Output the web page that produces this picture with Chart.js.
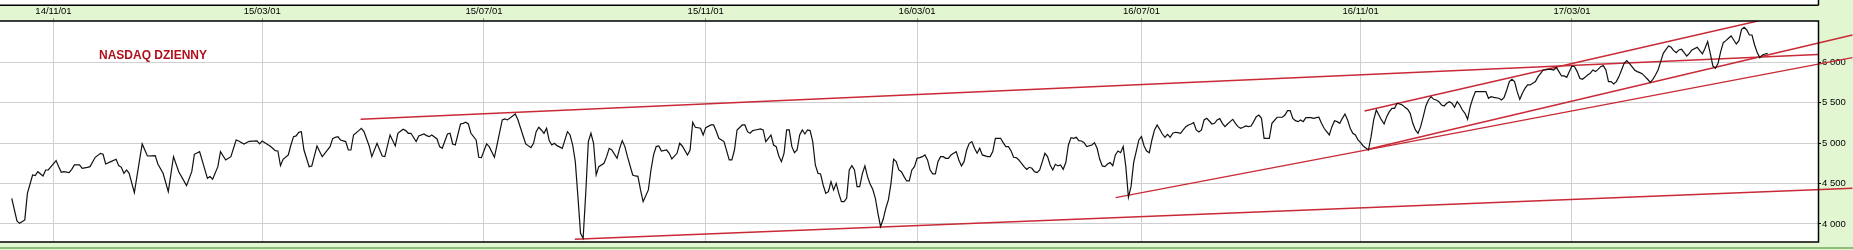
<!DOCTYPE html>
<html>
<head>
<meta charset="utf-8">
<script src="https://cdn.jsdelivr.net/npm/chart.js@4.4.1/dist/chart.umd.min.js"></script>
<style>
  html, body { margin: 0; padding: 0; background: #e3f6d2; }
  canvas { display: block; }
</style>
</head>
<body>
<canvas id="myChart" width="1853" height="250"></canvas>
<script>
// Wykres NASDAQ dzienny (numer sesji, kurs)
const title = 'NASDAQ DZIENNY';

// numery sesji (dni handlowe od poczatku wykresu)
const sessions = [
  0,2,3,5,6,8,9,10,12,13,14,17,18,19,20,22,23,24,26,27,29,30,32,34,35,36,38,40,41,42,43,44,45,47,49,50,52,55,56,58,60,62,64,67,69,70,72,75,76,77,79,80,82,84,86,87,89,91,94,95,96,
  97,99,100,101,102,103,104,106,107,108,109,110,111,112,114,115,117,119,120,122,123,124,125,126,128,129,130,131,133,134,135,137,138,140,142,143,145,147,148,150,151,152,153,155,156,158,159,160,161,163,164,165,167,168,169,170,172,173,174,175,176,178,179,180,182,183,185,186,188,189,190,193,194,196,197,199,
  200,201,202,203,204,205,206,207,208,209,211,213,214,215,216,217,218,219,220,221,222,223,224,225,227,228,229,230,232,233,234,235,236,238,239,240,241,242,244,245,246,247,248,249,251,252,253,255,256,257,259,260,261,262,264,265,266,268,269,270,271,273,275,276,277,278,280,281,282,283,284,285,287,288,289,290,291,292,293,294,295,296,297,298,299,300,
  301,302,303,304,305,306,307,308,309,310,311,312,313,314,315,316,317,318,319,320,321,322,323,324,325,326,327,328,329,330,331,332,333,334,335,336,337,338,339,340,341,342,343,344,345,346,347,348,349,350,351,352,353,354,355,356,357,358,359,360,361,362,363,364,365,366,367,368,369,370,371,372,374,375,376,377,379,380,381,382,383,384,385,386,388,389,390,391,392,393,394,395,396,397,398,399,400,401,402,
  403,404,405,406,407,408,409,410,411,412,414,415,416,417,418,419,420,421,422,423,424,425,426,427,428,429,430,432,433,434,435,436,437,438,439,440,441,442,443,444,445,446,447,448,449,450,451,452,453,454,455,456,457,458,459,460,461,462,463,464,465,466,467,468,469,470,471,472,473,474,475,476,477,478,479,480,481,482,483,485,486,487,488,489,490,491,492,493,494,495,496,497,498,499,500,501,502,503,504,505,
  506,507,508,509,510,511,512,513,514,515,516,517,518,520,521,522,523,524,525,526,527,528,529,530,531,533,534,535,536,537,538,539,540,541,542,543,544,545,546,547,548,549,550,551,552,553,554,555,556,557,558,559,560,561,563,564,565,566,567,568,570,571,572,573,574,575,576,577,578,579,580,581,582,583,584,585,586,587,589,590,591,592,593,594,595,596,597,598,599,600,601,602,603,604,605,
  606,607,608,609,610,611,612,613,614,615,616,617,618,619,620,621,622,623,624,625,626,627,628,629,630,631,632,633,635,636,637,638,639,640,641,642,643,644,646,647,648,649,650,651,652,653,654,655,656,657,658,659,660,661,662,663,664,665,666,667,668,669,670,671,672,673
];

// kurs zamkniecia
const closes = [
  4318,4037,4008,4050,4379,4606,4598,4647,4594,4668,4668,4784,4709,4639,4647,4635,4676,4730,4730,4689,4701,4709,4825,4874,4862,4742,4771,4800,4722,4701,4627,4668,4627,4388,4792,4990,4841,4845,4742,4627,4400,4833,4647,4474,4647,4862,4895,4565,4586,4553,4709,4895,4792,4833,5039,5027,4990,5023,5027,4990,5027,
  5006,4965,4936,4907,4903,4722,4800,4854,4977,5080,5089,5134,5142,4915,4709,4717,4965,4833,4874,4957,5056,5072,5080,5039,5019,4915,4915,5101,5155,5184,5142,4965,4833,4998,4841,4833,5101,4965,5122,5171,5155,5122,5122,5019,5089,5113,5093,5080,5101,5052,4957,4936,5113,5122,4990,4977,5237,5245,5258,5237,5122,5039,4825,4821,4990,4957,4825,4977,5287,5300,5287,5361,5290,5089,4990,4944,
  4998,5142,5196,5163,5122,5184,5031,4977,4998,4969,4936,5142,5101,4977,4771,4338,3885,3823,4379,5019,5122,4998,4606,4709,4751,4833,4936,4915,4812,4936,5031,4957,4833,4606,4594,4590,4421,4276,4421,4668,4854,4957,4965,4903,4915,4874,4804,4874,4998,4965,4854,4915,5258,5196,5184,5101,5192,5225,5225,5150,5060,5019,4792,4792,4915,5163,5225,5225,5142,5122,5155,5163,5175,5163,5019,5060,5101,4977,4957,4841,4771,4874,5163,5163,4957,4882,
  4915,5101,5163,5113,5163,5155,5019,4730,4627,4619,4482,4379,4400,4524,4421,4503,4379,4276,4276,4318,4668,4722,4668,4462,4462,4619,4718,4586,4495,4429,4318,4132,3967,4058,4194,4297,4503,4800,4771,4668,4647,4586,4532,4532,4668,4709,4812,4821,4833,4854,4792,4668,4619,4619,4771,4833,4833,4812,4812,4854,4874,4895,4792,4718,4771,4915,4998,5019,4936,4874,4936,4854,4833,4833,4895,5060,5060,5006,4957,4957,4907,4825,4821,4792,4709,4676,4701,4689,4647,4635,4668,4771,4874,4833,4730,4668,4738,4718,4730,
  4676,4760,4977,5068,5060,5072,5031,5027,5006,4957,4977,5006,4936,4800,4718,4709,4742,4759,4722,4854,4903,4882,4957,4709,4330,4462,4759,5039,5080,4965,4903,4882,5039,5163,5225,5171,5113,5072,5109,5072,5122,5134,5130,5122,5163,5204,5225,5237,5254,5163,5138,5163,5287,5307,5274,5237,5245,5287,5303,5245,5204,5237,5266,5295,5245,5204,5184,5196,5212,5204,5212,5266,5328,5348,5307,5060,5060,5060,5245,5320,5320,5320,5348,5402,5402,5307,5278,5266,5287,5266,5315,5315,5315,5307,5315,5320,5245,5184,5142,5101,
  5204,5278,5266,5245,5307,5361,5287,5184,5122,5101,5039,5006,4965,4915,5080,5287,5410,5348,5287,5237,5328,5390,5431,5431,5493,5472,5443,5419,5369,5245,5163,5122,5204,5328,5460,5534,5575,5542,5534,5513,5472,5460,5493,5513,5493,5443,5513,5472,5410,5369,5295,5452,5555,5637,5637,5637,5637,5555,5575,5567,5555,5534,5567,5658,5761,5790,5761,5637,5542,5616,5678,5720,5720,5740,5761,5823,5864,5905,5913,5913,5905,5938,5885,5831,5831,5814,5885,5955,5946,5885,5802,5790,5814,5843,5864,
  5905,5885,5913,5946,5959,5905,5761,5761,5732,5761,5823,5905,5988,6021,5988,5946,5905,5885,5872,5856,5823,5790,5753,5790,5843,5905,6008,6111,6202,6186,6144,6120,6153,6161,6120,6078,6111,6153,6186,6144,6103,6173,6256,6111,5955,5926,5988,6132,6243,6268,6297,6326,6276,6227,6268,6408,6433,6400,6338,6338,6214,6120,6058,6091,6103,6111
];

// etykiety osi czasu i sesje, na ktore przypadaja
const tickLabels = ['14/11/01', '15/03/01', '15/07/01', '15/11/01', '16/03/01', '16/07/01', '16/11/01', '17/03/01'];
const tickSessions = [16, 96, 181, 266, 347, 433, 517, 598];

// poziomy osi cen
const priceTicks = [4000, 4500, 5000, 5500, 6000];

// linie trendu: [sesja, kurs] poczatku i konca
const trendLines = [
  [[133.7, 5295], [692.3, 6096]],
  [[215.8, 3810], [705.5, 4441]],
  [[423.1, 4326], [705.5, 6058]],
  [[519.8, 4924], [705.5, 6338]],
  [[518.5, 5398], [669.2, 6511]]
];

const xMin = -4.5, xMax = 692.3;
const yMin = 3777, yMax = 6511;

const graph = document.getElementById('myChart');

// tlo, ramki i tytul
const frame = {
  id: 'frame',
  beforeDraw(chart) {
    const ctx = chart.ctx, a = chart.chartArea;
    ctx.save();
    ctx.fillStyle = '#e3f6d2';
    ctx.fillRect(0, 0, chart.width, chart.height);
    ctx.fillStyle = '#ffffff';
    ctx.fillRect(0, 0, a.right, 5);
    ctx.fillRect(a.left, a.top, a.right - a.left, a.bottom - a.top);
    ctx.fillStyle = '#8dbd79';
    ctx.fillRect(0, 247, chart.width, 2);
    ctx.restore();
  },
  beforeDatasetsDraw(chart) {
    const ctx = chart.ctx;
    ctx.save();
    ctx.fillStyle = '#b0101c';
    ctx.font = 'bold 12px "Liberation Sans", Arial, sans-serif';
    ctx.textBaseline = 'alphabetic';
    ctx.fillText(title, 99, 59);
    ctx.restore();
  },
  afterDraw(chart) {
    const ctx = chart.ctx, a = chart.chartArea;
    ctx.save();
    ctx.strokeStyle = '#000';
    ctx.lineWidth = 1.5;
    ctx.beginPath();
    ctx.moveTo(0, 5.25); ctx.lineTo(a.right + 0.5, 5.25);
    ctx.moveTo(a.right + 0.5, 0); ctx.lineTo(a.right + 0.5, 5.25);
    ctx.stroke();
    ctx.strokeRect(-2, a.top, a.right + 2.5, a.bottom - a.top);
    ctx.restore();
  }
};

const datasets = [{
  data: sessions.map((s, i) => ({ x: s, y: closes[i] })),
  borderColor: '#111111',
  borderWidth: 1.2,
  pointRadius: 0,
  tension: 0
}];
trendLines.forEach(t => {
  datasets.push({
    data: t.map(p => ({ x: p[0], y: p[1] })),
    borderColor: '#c92a36',
    borderWidth: 1.5,
    pointRadius: 0,
    clip: { left: 0, top: 0, right: false, bottom: 0 }
  });
});

new Chart(graph, {
  type: 'line',
  data: { datasets: datasets },
  options: {
    responsive: false,
    devicePixelRatio: 1,
    animation: false,
    events: [],
    layout: { padding: { top: 0, left: 0, right: 0, bottom: 8 } },
    plugins: { legend: { display: false }, tooltip: { enabled: false } },
    scales: {
      x: {
        type: 'linear',
        position: 'top',
        min: xMin,
        max: xMax,
        border: { display: false },
        grid: { color: '#cfcfcf', lineWidth: 1, tickLength: 3, tickColor: '#999' },
        ticks: {
          autoSkip: false,
          maxRotation: 0,
          padding: 1,
          color: '#000',
          font: { size: 9.5, family: '"Liberation Sans", Arial, sans-serif' },
          callback: (v, i) => tickLabels[i]
        },
        afterBuildTicks: scale => { scale.ticks = tickSessions.map(v => ({ value: v })); },
        afterFit: scale => { scale.height = 21; }
      },
      y: {
        position: 'right',
        min: yMin,
        max: yMax,
        border: { display: false },
        grid: { color: '#cfcfcf', lineWidth: 1, tickLength: 3, tickColor: '#000' },
        ticks: {
          padding: 1,
          color: '#000',
          font: { size: 9.5, family: '"Liberation Sans", Arial, sans-serif' },
          callback: v => String(v).replace(/\B(?=(\d{3})+(?!\d))/g, ' ')
        },
        afterBuildTicks: scale => { scale.ticks = priceTicks.map(v => ({ value: v })); },
        afterFit: scale => { scale.width = 35; }
      }
    }
  },
  plugins: [frame]
});
</script>
</body>
</html>
